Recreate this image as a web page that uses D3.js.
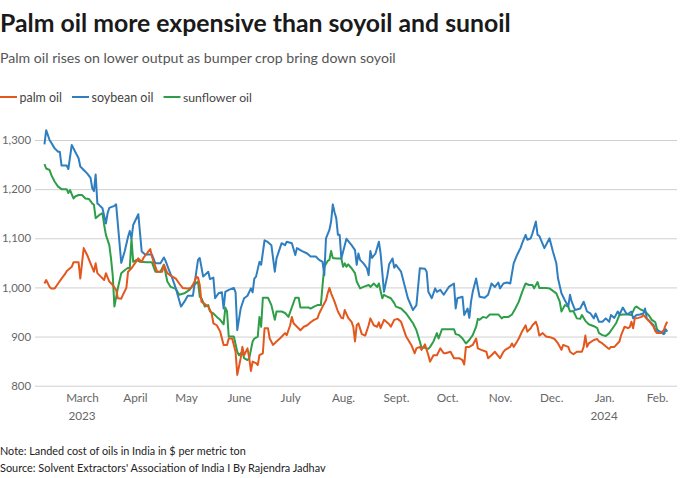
<!DOCTYPE html>
<html><head><meta charset="utf-8">
<script src="https://cdn.jsdelivr.net/npm/d3@7"></script>
<style>body{margin:0;background:#fff} svg{display:block} text{font-family:"Source Sans Pro","Lato","Noto Sans",sans-serif}</style>
</head><body><svg id="c" width="680" height="478"></svg>
<script>
const seriesNames = ["palm oil","soybean oil","sunflower oil"];
const seriesColors = ["#e2581e","#2f7ebf","#2f9e48"];
const yTicks = [800,900,1000,1100,1200,1300];
const monthTicks = ["2023-03-01","2023-04-01","2023-05-01","2023-06-01","2023-07-01","2023-08-01","2023-09-01","2023-10-01","2023-11-01","2023-12-01","2024-01-01","2024-02-01"];
const monthLabels = ["March","April","May","June","July","Aug.","Sept.","Oct.","Nov.","Dec.","Jan.","Feb."];
const yearTicks = ["2023-03-01","2024-01-01"];
const yearLabels = ["2023","2024"];

const palmOil = [["2023-02-07",1008],["2023-02-08",1015],["2023-02-10",1001],["2023-02-11",998],["2023-02-13",998],["2023-02-15",1008],["2023-02-17",1018],["2023-02-19",1027],["2023-02-20",1033],["2023-02-23",1042],["2023-02-24",1051],["2023-02-27",1051],["2023-02-28",1018],["2023-03-01",1049],["2023-03-02",1080],["2023-03-04",1066],["2023-03-06",1049],["2023-03-08",1032],["2023-03-09",1049],["2023-03-10",1029],["2023-03-12",1022],["2023-03-14",1015],["2023-03-15",1029],["2023-03-17",1012],["2023-03-19",1005],["2023-03-21",995],["2023-03-22",978],["2023-03-24",977],["2023-03-25",985],["2023-03-27",999],["2023-03-28",1032],["2023-03-30",1039],["2023-04-01",1049],["2023-04-03",1059],["2023-04-05",1052],["2023-04-06",1060],["2023-04-08",1069],["2023-04-10",1078],["2023-04-11",1063],["2023-04-12",1052],["2023-04-14",1032],["2023-04-17",1032],["2023-04-18",1046],["2023-04-20",1029],["2023-04-22",1024],["2023-04-25",1018],["2023-04-27",1008],["2023-04-29",999],["2023-05-02",998],["2023-05-04",999],["2023-05-06",1012],["2023-05-07",1022],["2023-05-08",1020],["2023-05-09",1005],["2023-05-10",971],["2023-05-12",966],["2023-05-14",961],["2023-05-16",947],["2023-05-17",927],["2023-05-19",923],["2023-05-21",910],["2023-05-23",883],["2023-05-25",883],["2023-05-26",896],["2023-05-28",896],["2023-05-30",869],["2023-05-31",822],["2023-06-02",856],["2023-06-03",879],["2023-06-04",862],["2023-06-06",876],["2023-06-07",856],["2023-06-08",830],["2023-06-09",849],["2023-06-11",846],["2023-06-12",842],["2023-06-13",862],["2023-06-15",866],["2023-06-16",917],["2023-06-18",917],["2023-06-19",896],["2023-06-21",883],["2023-06-23",890],["2023-06-25",896],["2023-06-28",907],["2023-06-29",903],["2023-07-01",923],["2023-07-02",940],["2023-07-03",927],["2023-07-05",920],["2023-07-07",913],["2023-07-09",920],["2023-07-11",923],["2023-07-13",929],["2023-07-15",934],["2023-07-17",937],["2023-07-18",947],["2023-07-20",961],["2023-07-22",974],["2023-07-23",988],["2023-07-24",999],["2023-07-25",988],["2023-07-27",971],["2023-07-29",951],["2023-07-31",938],["2023-08-01",937],["2023-08-02",954],["2023-08-04",938],["2023-08-06",930],["2023-08-07",920],["2023-08-08",890],["2023-08-09",923],["2023-08-10",927],["2023-08-12",905],["2023-08-14",902],["2023-08-16",923],["2023-08-17",937],["2023-08-19",923],["2023-08-21",920],["2023-08-22",929],["2023-08-23",917],["2023-08-25",934],["2023-08-28",925],["2023-08-29",920],["2023-08-31",934],["2023-09-02",936],["2023-09-04",930],["2023-09-06",910],["2023-09-07",900],["2023-09-10",883],["2023-09-12",866],["2023-09-13",876],["2023-09-15",879],["2023-09-16",873],["2023-09-18",884],["2023-09-20",862],["2023-09-21",849],["2023-09-23",862],["2023-09-25",862],["2023-09-27",876],["2023-09-29",866],["2023-09-30",866],["2023-10-03",869],["2023-10-05",856],["2023-10-08",856],["2023-10-10",852],["2023-10-11",843],["2023-10-12",879],["2023-10-14",879],["2023-10-16",883],["2023-10-18",896],["2023-10-19",876],["2023-10-21",873],["2023-10-24",869],["2023-10-25",856],["2023-10-27",862],["2023-10-29",869],["2023-11-01",856],["2023-11-03",869],["2023-11-04",873],["2023-11-07",879],["2023-11-08",886],["2023-11-09",879],["2023-11-11",890],["2023-11-12",896],["2023-11-14",911],["2023-11-16",923],["2023-11-17",910],["2023-11-19",917],["2023-11-20",923],["2023-11-22",930],["2023-11-23",920],["2023-11-24",902],["2023-11-26",907],["2023-11-28",900],["2023-12-01",898],["2023-12-03",895],["2023-12-05",886],["2023-12-07",873],["2023-12-08",883],["2023-12-11",879],["2023-12-12",869],["2023-12-14",864],["2023-12-16",869],["2023-12-19",869],["2023-12-20",879],["2023-12-21",902],["2023-12-22",879],["2023-12-23",886],["2023-12-26",893],["2023-12-28",895],["2023-12-29",890],["2023-12-31",886],["2024-01-03",877],["2024-01-04",875],["2024-01-05",879],["2024-01-07",879],["2024-01-10",890],["2024-01-11",903],["2024-01-13",920],["2024-01-15",917],["2024-01-16",919],["2024-01-17",930],["2024-01-18",917],["2024-01-19",937],["2024-01-21",938],["2024-01-23",940],["2024-01-24",944],["2024-01-26",936],["2024-01-28",929],["2024-01-30",920],["2024-01-31",911],["2024-02-01",907],["2024-02-03",907],["2024-02-05",913],["2024-02-06",923],["2024-02-07",930]];

const soybeanOil = [["2023-02-07",1291],["2023-02-08",1320],["2023-02-10",1300],["2023-02-13",1283],["2023-02-15",1276],["2023-02-16",1276],["2023-02-17",1248],["2023-02-20",1248],["2023-02-21",1241],["2023-02-23",1290],["2023-02-25",1276],["2023-02-27",1263],["2023-02-28",1246],["2023-03-02",1239],["2023-03-04",1232],["2023-03-06",1223],["2023-03-07",1202],["2023-03-08",1196],["2023-03-09",1230],["2023-03-10",1171],["2023-03-11",1168],["2023-03-13",1161],["2023-03-15",1130],["2023-03-16",1151],["2023-03-17",1162],["2023-03-20",1166],["2023-03-21",1169],["2023-03-24",1050],["2023-03-26",1073],["2023-03-28",1103],["2023-03-29",1115],["2023-03-30",1100],["2023-03-31",1127],["2023-04-03",1149],["2023-04-05",1073],["2023-04-07",1067],["2023-04-11",1067],["2023-04-13",1049],["2023-04-16",1049],["2023-04-18",1061],["2023-04-19",1054],["2023-04-21",1035],["2023-04-23",1018],["2023-04-25",998],["2023-04-28",961],["2023-04-30",971],["2023-05-02",983],["2023-05-05",983],["2023-05-07",1032],["2023-05-08",1056],["2023-05-09",1060],["2023-05-11",1022],["2023-05-14",1032],["2023-05-15",1017],["2023-05-17",1020],["2023-05-18",978],["2023-05-20",988],["2023-05-22",990],["2023-05-23",957],["2023-05-24",991],["2023-05-26",995],["2023-05-29",999],["2023-05-30",990],["2023-05-31",913],["2023-06-02",957],["2023-06-04",978],["2023-06-06",983],["2023-06-08",998],["2023-06-09",990],["2023-06-10",1018],["2023-06-11",1022],["2023-06-13",1052],["2023-06-14",1046],["2023-06-16",1096],["2023-06-18",1092],["2023-06-20",1086],["2023-06-22",1032],["2023-06-23",1059],["2023-06-25",1080],["2023-06-26",1090],["2023-06-28",1086],["2023-06-29",1093],["2023-07-02",1090],["2023-07-04",1066],["2023-07-05",1080],["2023-07-08",1074],["2023-07-11",1069],["2023-07-13",1063],["2023-07-16",1063],["2023-07-18",1056],["2023-07-20",1052],["2023-07-21",1025],["2023-07-22",1100],["2023-07-24",1117],["2023-07-25",1134],["2023-07-26",1169],["2023-07-27",1153],["2023-07-28",1141],["2023-07-29",1107],["2023-07-30",1107],["2023-07-31",1059],["2023-08-02",1086],["2023-08-03",1099],["2023-08-06",1086],["2023-08-08",1076],["2023-08-09",1046],["2023-08-10",1069],["2023-08-11",1056],["2023-08-13",1049],["2023-08-15",1039],["2023-08-16",1025],["2023-08-17",1074],["2023-08-18",1060],["2023-08-20",1069],["2023-08-22",1093],["2023-08-23",1069],["2023-08-25",991],["2023-08-27",1025],["2023-08-28",1047],["2023-08-30",1059],["2023-08-31",1040],["2023-09-01",1046],["2023-09-04",1032],["2023-09-06",1005],["2023-09-08",978],["2023-09-11",954],["2023-09-13",964],["2023-09-15",1039],["2023-09-18",1038],["2023-09-19",1032],["2023-09-20",991],["2023-09-22",978],["2023-09-24",998],["2023-09-25",991],["2023-09-27",995],["2023-09-29",985],["2023-10-02",1001],["2023-10-05",1008],["2023-10-06",957],["2023-10-07",978],["2023-10-10",981],["2023-10-11",944],["2023-10-13",957],["2023-10-14",938],["2023-10-15",971],["2023-10-16",991],["2023-10-18",1018],["2023-10-20",981],["2023-10-23",979],["2023-10-25",985],["2023-10-27",1008],["2023-10-29",1001],["2023-10-31",1010],["2023-11-01",998],["2023-11-03",1008],["2023-11-05",1010],["2023-11-07",1008],["2023-11-09",1049],["2023-11-11",1066],["2023-11-12",1073],["2023-11-13",1080],["2023-11-14",1090],["2023-11-16",1107],["2023-11-17",1097],["2023-11-19",1100],["2023-11-20",1110],["2023-11-22",1134],["2023-11-23",1107],["2023-11-24",1105],["2023-11-27",1080],["2023-11-30",1100],["2023-12-02",1073],["2023-12-04",1049],["2023-12-05",1018],["2023-12-07",988],["2023-12-09",974],["2023-12-11",961],["2023-12-12",985],["2023-12-13",971],["2023-12-15",954],["2023-12-18",957],["2023-12-20",971],["2023-12-22",951],["2023-12-24",947],["2023-12-26",937],["2023-12-27",947],["2023-12-29",930],["2023-12-31",930],["2024-01-02",937],["2024-01-04",930],["2024-01-05",944],["2024-01-07",938],["2024-01-09",951],["2024-01-10",945],["2024-01-12",959],["2024-01-14",947],["2024-01-15",946],["2024-01-17",951],["2024-01-18",937],["2024-01-20",944],["2024-01-22",945],["2024-01-24",947],["2024-01-25",957],["2024-01-26",937],["2024-01-28",930],["2024-01-30",923],["2024-01-31",913],["2024-02-03",910],["2024-02-05",905],["2024-02-06",915],["2024-02-07",910]];

const sunflowerOil = [["2023-02-07",1251],["2023-02-08",1242],["2023-02-10",1239],["2023-02-11",1229],["2023-02-13",1215],["2023-02-15",1205],["2023-02-17",1200],["2023-02-20",1200],["2023-02-21",1192],["2023-02-22",1198],["2023-02-24",1181],["2023-02-25",1185],["2023-02-27",1188],["2023-03-01",1188],["2023-03-03",1181],["2023-03-05",1180],["2023-03-07",1171],["2023-03-08",1168],["2023-03-09",1141],["2023-03-11",1147],["2023-03-13",1151],["2023-03-14",1127],["2023-03-15",1107],["2023-03-17",1086],["2023-03-18",1059],["2023-03-19",1025],["2023-03-20",961],["2023-03-22",998],["2023-03-24",1029],["2023-03-26",1035],["2023-03-28",1040],["2023-03-29",1038],["2023-03-30",1100],["2023-03-31",1052],["2023-04-02",1056],["2023-04-04",1052],["2023-04-08",1051],["2023-04-11",1051],["2023-04-13",1032],["2023-04-16",1032],["2023-04-18",1046],["2023-04-20",1012],["2023-04-22",1001],["2023-04-25",997],["2023-04-27",985],["2023-04-30",988],["2023-05-03",995],["2023-05-05",1005],["2023-05-06",1006],["2023-05-08",1012],["2023-05-09",981],["2023-05-10",978],["2023-05-12",961],["2023-05-14",964],["2023-05-15",951],["2023-05-17",947],["2023-05-19",940],["2023-05-21",934],["2023-05-23",925],["2023-05-24",959],["2023-05-25",951],["2023-05-26",900],["2023-05-29",900],["2023-05-31",869],["2023-06-01",862],["2023-06-03",869],["2023-06-04",856],["2023-06-06",852],["2023-06-07",856],["2023-06-09",890],["2023-06-10",896],["2023-06-12",900],["2023-06-13",940],["2023-06-14",920],["2023-06-15",979],["2023-06-18",979],["2023-06-20",964],["2023-06-22",934],["2023-06-23",951],["2023-06-26",951],["2023-06-28",948],["2023-06-30",940],["2023-07-04",979],["2023-07-06",979],["2023-07-07",959],["2023-07-12",959],["2023-07-13",957],["2023-07-15",961],["2023-07-17",964],["2023-07-19",964],["2023-07-20",1005],["2023-07-21",1042],["2023-07-23",1054],["2023-07-24",1056],["2023-07-25",1074],["2023-07-26",1060],["2023-07-28",1059],["2023-07-31",1059],["2023-08-01",1042],["2023-08-02",1049],["2023-08-03",1042],["2023-08-04",1047],["2023-08-06",1039],["2023-08-08",1029],["2023-08-09",1012],["2023-08-11",998],["2023-08-13",1001],["2023-08-16",1005],["2023-08-17",1001],["2023-08-19",1008],["2023-08-21",1001],["2023-08-22",1008],["2023-08-24",978],["2023-08-25",985],["2023-08-27",981],["2023-08-29",978],["2023-08-31",968],["2023-09-01",961],["2023-09-04",957],["2023-09-07",947],["2023-09-09",937],["2023-09-11",927],["2023-09-13",913],["2023-09-15",890],["2023-09-16",877],["2023-09-18",877],["2023-09-20",875],["2023-09-21",879],["2023-09-23",890],["2023-09-25",907],["2023-09-26",896],["2023-09-28",915],["2023-09-30",915],["2023-10-05",915],["2023-10-06",905],["2023-10-08",903],["2023-10-10",896],["2023-10-12",886],["2023-10-14",893],["2023-10-16",903],["2023-10-18",920],["2023-10-19",936],["2023-10-20",934],["2023-10-22",940],["2023-10-24",938],["2023-10-26",945],["2023-10-31",945],["2023-11-02",937],["2023-11-03",940],["2023-11-06",940],["2023-11-08",945],["2023-11-10",957],["2023-11-12",971],["2023-11-14",991],["2023-11-16",1008],["2023-11-18",1005],["2023-11-20",1005],["2023-11-21",998],["2023-11-23",1011],["2023-11-24",999],["2023-11-28",999],["2023-11-30",998],["2023-12-02",993],["2023-12-04",988],["2023-12-06",971],["2023-12-07",951],["2023-12-09",964],["2023-12-11",961],["2023-12-12",951],["2023-12-14",952],["2023-12-16",937],["2023-12-18",936],["2023-12-19",944],["2023-12-21",932],["2023-12-23",925],["2023-12-26",921],["2023-12-28",917],["2023-12-29",907],["2023-12-31",903],["2024-01-02",901],["2024-01-04",907],["2024-01-06",917],["2024-01-08",927],["2024-01-10",944],["2024-01-12",945],["2024-01-15",945],["2024-01-17",944],["2024-01-19",959],["2024-01-20",961],["2024-01-22",956],["2024-01-25",951],["2024-01-27",944],["2024-01-29",934],["2024-01-31",929],["2024-02-01",915],["2024-02-03",907],["2024-02-06",907]];

const parse = d3.timeParse("%Y-%m-%d");
const svg = d3.select("#c");
const plot = {left: 35, right: 677, top: 140, bottom: 385.7};

// size a text so its rendered width matches the reference width
function fitSize(sel, base, target) {
  sel.attr("font-size", base);
  const w = sel.node().getComputedTextLength();
  const s = base * target / w;
  sel.attr("font-size", s);
  return s;
}

const x = d3.scaleTime()
  .domain([parse("2023-03-01"), parse("2024-02-01")])
  .range([82, 657]);
const y = d3.scaleLinear().domain([800, 1300]).range([plot.bottom, plot.top]);

// title etc.
const title = svg.append("text").attr("x", 0).attr("y", 32)
  .attr("font-weight", 700).attr("fill", "#1a1a1a")
  .text("Palm oil more expensive than soyoil and sunoil");
fitSize(title, 26, 511);
const sub = svg.append("text").attr("x", 0).attr("y", 63)
  .attr("fill", "#555")
  .text("Palm oil rises on lower output as bumper crop bring down soyoil");
fitSize(sub, 15, 396);

// legend
const legend = svg.append("g").attr("transform", "translate(0,97)");
const legendTextW = [42.5, 62, 69];
let lx = 0;
seriesNames.forEach((n, i) => {
  legend.append("line").attr("x1", lx).attr("x2", lx + 17).attr("y1", 0).attr("y2", 0)
    .attr("stroke", seriesColors[i]).attr("stroke-width", 2);
  const t = legend.append("text").attr("x", lx + 19.5).attr("y", 4.5)
    .attr("fill", "#444").text(n);
  fitSize(t, 13, legendTextW[i]);
  lx += 19.5 + legendTextW[i] + 10;
});

// y axis with grid
const yAxis = d3.axisLeft(y).tickValues(yTicks).tickFormat(d3.format(","))
  .tickSize(-(plot.right - plot.left)).tickPadding(4);
const gy = svg.append("g").attr("transform", `translate(${plot.left},0)`).call(yAxis);
gy.select(".domain").remove();
gy.selectAll(".tick line").attr("stroke", "#d0d0d0").attr("stroke-width", 1);
const yt = gy.selectAll(".tick text").attr("fill", "#666").attr("font-family", null);
const yRef = gy.selectAll(".tick text").filter(d => d === 1000);
const ys = fitSize(yRef, 13, 29);
yt.attr("font-size", ys);

// x axis
const xAxis = d3.axisBottom(x).tickValues(monthTicks.map(parse))
  .tickFormat((d, i) => monthLabels[i]).tickSize(0).tickPadding(8);
const gx = svg.append("g").attr("transform", `translate(0,${plot.bottom})`).call(xAxis);
gx.select(".domain").remove();
const xt = gx.selectAll(".tick text").attr("fill", "#666").attr("font-family", null);
const xs = fitSize(xt.filter((d, i) => i === 0), 13, 32.7);
xt.attr("font-size", xs);

svg.append("g").selectAll("text").data(yearTicks).join("text")
  .attr("x", d => x(parse(d))).attr("y", 420)
  .attr("text-anchor", "middle").attr("font-size", xs).attr("fill", "#666")
  .text((d, i) => yearLabels[i]);

// lines
const line = d3.line().x(d => x(parse(d[0]))).y(d => y(d[1]));
const all = [palmOil, soybeanOil, sunflowerOil];
[2, 1, 0].forEach(i => {
  svg.append("path").datum(all[i]).attr("d", line)
    .attr("fill", "none").attr("stroke", seriesColors[i]).attr("stroke-width", 2)
    .attr("stroke-linejoin", "round");
});

// notes
const note = svg.append("text").attr("x", 0).attr("y", 455).attr("fill", "#222")
  .text("Note: Landed cost of oils in India in $ per metric ton");
fitSize(note, 11, 246);
const src = svg.append("text").attr("x", 0).attr("y", 472).attr("fill", "#222")
  .text("Source: Solvent Extractors' Association of India I By Rajendra Jadhav");
fitSize(src, 11, 326);
</script></body></html>
